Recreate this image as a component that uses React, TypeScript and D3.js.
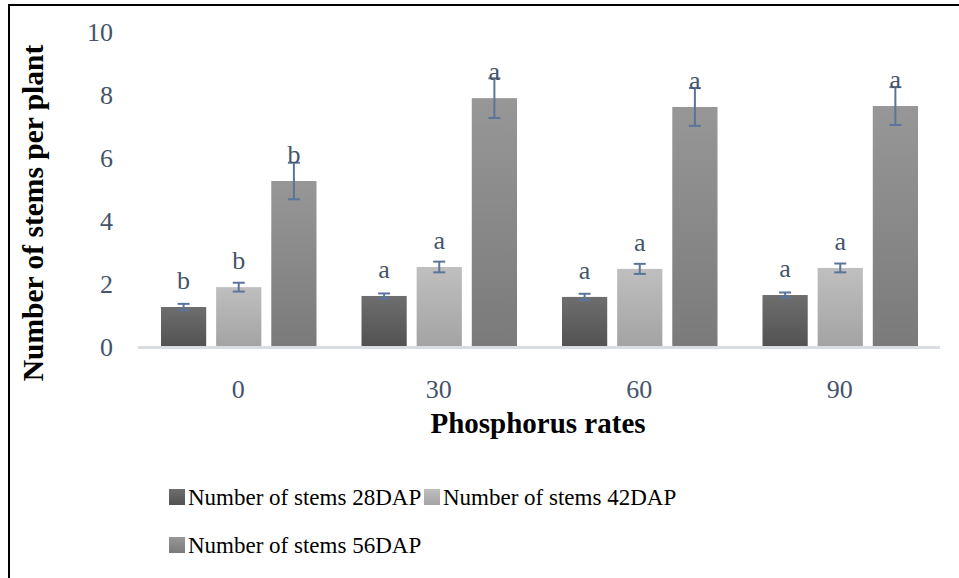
import React from "react";
import * as d3 from "d3";

const categories = ["0", "30", "60", "90"];
const seriesNames = ["Number of stems 28DAP", "Number of stems 42DAP", "Number of stems 56DAP"];
const stems28 = [1.27, 1.62, 1.59, 1.65];
const stems42 = [1.9, 2.54, 2.48, 2.51];
const stems56 = [5.27, 7.9, 7.62, 7.65];
const err28 = [0.1, 0.08, 0.1, 0.08];
const err42 = [0.14, 0.17, 0.16, 0.14];
const err56 = [0.58, 0.63, 0.6, 0.6];
const letters28 = ["b", "a", "a", "a"];
const letters42 = ["b", "a", "a", "a"];
const letters56 = ["b", "a", "a", "a"];
const yTicks = [0, 2, 4, 6, 8, 10];

const values = [stems28, stems42, stems56];
const errors = [err28, err42, err56];
const letters = [letters28, letters42, letters56];
const gradients = [
  ["#6e6e6e", "#525252"],
  ["#bfbfbf", "#a3a3a3"],
  ["#979797", "#7a7a7a"],
];

const W = 959;
const H = 578;
const FONT = "'Liberation Serif', 'Times New Roman', serif";
const TICK_COLOR = "#44546a";
const ERR_COLOR = "#5b7499";

export default function App() {
  const x0 = d3.scaleBand().domain(categories).range([138, 940]);
  const x1 = d3
    .scaleBand()
    .domain(seriesNames)
    .range([23, 178.5])
    .paddingInner(0.18);
  const y = d3.scaleLinear().domain([0, 10]).range([347, 32]);
  const bw = x1.bandwidth();

  return (
    <svg
      width={W}
      height={H}
      style={{ position: "fixed", left: 0, top: 0, background: "#fff" }}
      fontFamily={FONT}
    >
      <defs>
        {gradients.map((g, i) => (
          <linearGradient key={i} id={`grad${i}`} x1="0" y1="0" x2="0" y2="1">
            <stop offset="0%" stopColor={g[0]} />
            <stop offset="100%" stopColor={g[1]} />
          </linearGradient>
        ))}
      </defs>
      <rect x={0} y={0} width={W} height={H} fill="#fff" />
      <rect x={9} y={5} width={W + 20} height={H + 20} fill="none" stroke="#000" strokeWidth={2} />

      {/* y tick labels */}
      {yTicks.map((t) => (
        <text
          key={t}
          x={113}
          y={y(t)}
          dy="0.35em"
          textAnchor="end"
          fontSize={26}
          fill={TICK_COLOR}
        >
          {t}
        </text>
      ))}

      {/* bars */}
      {categories.map((c, ci) => (
        <g key={c} transform={`translate(${x0(c)},0)`}>
          {seriesNames.map((s, si) => {
            const v = values[si][ci];
            const e = errors[si][ci];
            const bx = x1(s)!;
            const cx = bx + bw / 2;
            return (
              <g key={s}>
                <rect x={bx} y={y(v)} width={bw} height={y(0) - y(v)} fill={`url(#grad${si})`} />
                <line x1={cx} x2={cx} y1={y(v + e)} y2={y(v - e)} stroke={ERR_COLOR} strokeWidth={2} />
                <line x1={cx - 6} x2={cx + 6} y1={y(v + e)} y2={y(v + e)} stroke={ERR_COLOR} strokeWidth={2} />
                <line x1={cx - 6} x2={cx + 6} y1={y(v - e)} y2={y(v - e)} stroke={ERR_COLOR} strokeWidth={2} />
                <text x={cx} y={y(v) - 26} dy="0.32em" textAnchor="middle" fontSize={26} fill={TICK_COLOR}>
                  {letters[si][ci]}
                </text>
              </g>
            );
          })}
        </g>
      ))}

      {/* x axis */}
      <line x1={138} x2={940} y1={347.5} y2={347.5} stroke="#d9dde3" strokeWidth={3} />
      {categories.map((c) => (
        <text
          key={c}
          x={x0(c)! + x0.bandwidth() / 2}
          y={389}
          dy="0.35em"
          textAnchor="middle"
          fontSize={26}
          fill={TICK_COLOR}
        >
          {c}
        </text>
      ))}

      {/* axis titles */}
      <text x={538} y={423} dy="0.35em" textAnchor="middle" fontSize={29} fontWeight="bold" fill="#000">
        Phosphorus rates
      </text>
      <text
        transform={`translate(33,213) rotate(-90)`}
        dy="0.35em"
        textAnchor="middle"
        fontSize={29.5}
        fontWeight="bold"
        fill="#000"
      >
        Number of stems per plant
      </text>

      {/* legend */}
      {[
        { i: 0, x: 169, y: 497 },
        { i: 1, x: 424, y: 497 },
        { i: 2, x: 169, y: 545 },
      ].map(({ i, x, y: ly }) => (
        <g key={i}>
          <rect x={x} y={ly - 8} width={16} height={16} fill={`url(#grad${i})`} />
          <text x={x + 19} y={ly} dy="0.35em" fontSize={23} fill="#000">
            {seriesNames[i]}
          </text>
        </g>
      ))}
    </svg>
  );
}
